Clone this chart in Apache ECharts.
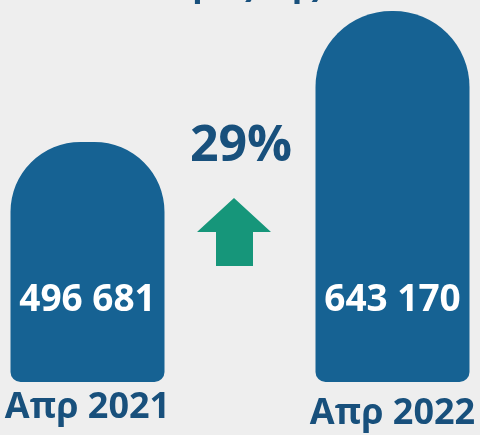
<!DOCTYPE html>
<html>
<head>
<meta charset="utf-8">
<script src="https://cdn.jsdelivr.net/npm/echarts@6/dist/echarts.min.js"></script>
<style>
html,body{margin:0;padding:0;background:#eeeeee;overflow:hidden;width:480px;height:435px;}
#chart{width:610px;height:435px;margin-left:-65px;}
</style>
</head>
<body>
<div id="chart"></div>
<script>
const categories = ["Απρ 2021", "Απρ 2022"];
const values = [496681, 643170];
const changeLabel = "29%";
const titleText = "Σταθμός της";

const OFF = 65; // chart canvas is shifted left by this many px
const chart = echarts.init(document.getElementById('chart'));
const FONT = '"Open Sans", "Noto Sans", sans-serif';
const dark = '#18507c';
const barColor = '#166293';

function fmt(v){ return String(v).replace(/\B(?=(\d{3})+(?!\d))/g, ' '); }

chart.setOption({
  backgroundColor: '#eeeeee',
  animation: false,
  grid: { left: 0, right: 0, top: 11, bottom: 53 },
  xAxis: {
    type: 'category',
    data: categories.map((c, i) => ({
      value: c,
      textStyle: i === 1 ? { padding: [6, 0, 0, 0] } : {}
    })),
    axisLine: { show: false },
    axisTick: { show: false },
    axisLabel: {
      margin: 8,
      color: dark,
      fontFamily: FONT,
      fontWeight: 'bold',
      fontSize: 36
    }
  },
  yAxis: {
    type: 'value',
    min: 228000,
    max: 643170,
    show: false,
    splitLine: { show: false }
  },
  series: [{
    type: 'bar',
    data: values.map((v, i) => ({
      value: v,
      itemStyle: { borderRadius: i === 0 ? [70, 70, 10, 10] : [76, 76, 10, 10] }
    })),
    barWidth: 154,
    itemStyle: { color: barColor },
    label: {
      show: true,
      position: 'insideBottom',
      distance: 63,
      color: '#ffffff',
      fontFamily: FONT,
      fontWeight: 'bold',
      fontSize: 37,
      formatter: p => fmt(p.value)
    }
  }],
  graphic: [
    {
      type: 'text',
      x: 215 + OFF, y: 3,
      style: { text: titleText, fill: dark, font: 'bold 34px ' + FONT, textAlign: 'center', textVerticalAlign: 'bottom' }
    },
    {
      type: 'text',
      x: 241 + OFF, y: 147,
      style: {
        text: changeLabel, fill: dark, font: 'bold 50px ' + FONT,
        textAlign: 'center', textVerticalAlign: 'middle'
      }
    },
    {
      type: 'polygon',
      shape: { points: [[234,198],[271,232],[253,232],[253,266],[216,266],[216,232],[197,232]].map(p => [p[0] + OFF, p[1]]) },
      style: { fill: '#16967a' }
    }
  ]
});
</script>
</body>
</html>
